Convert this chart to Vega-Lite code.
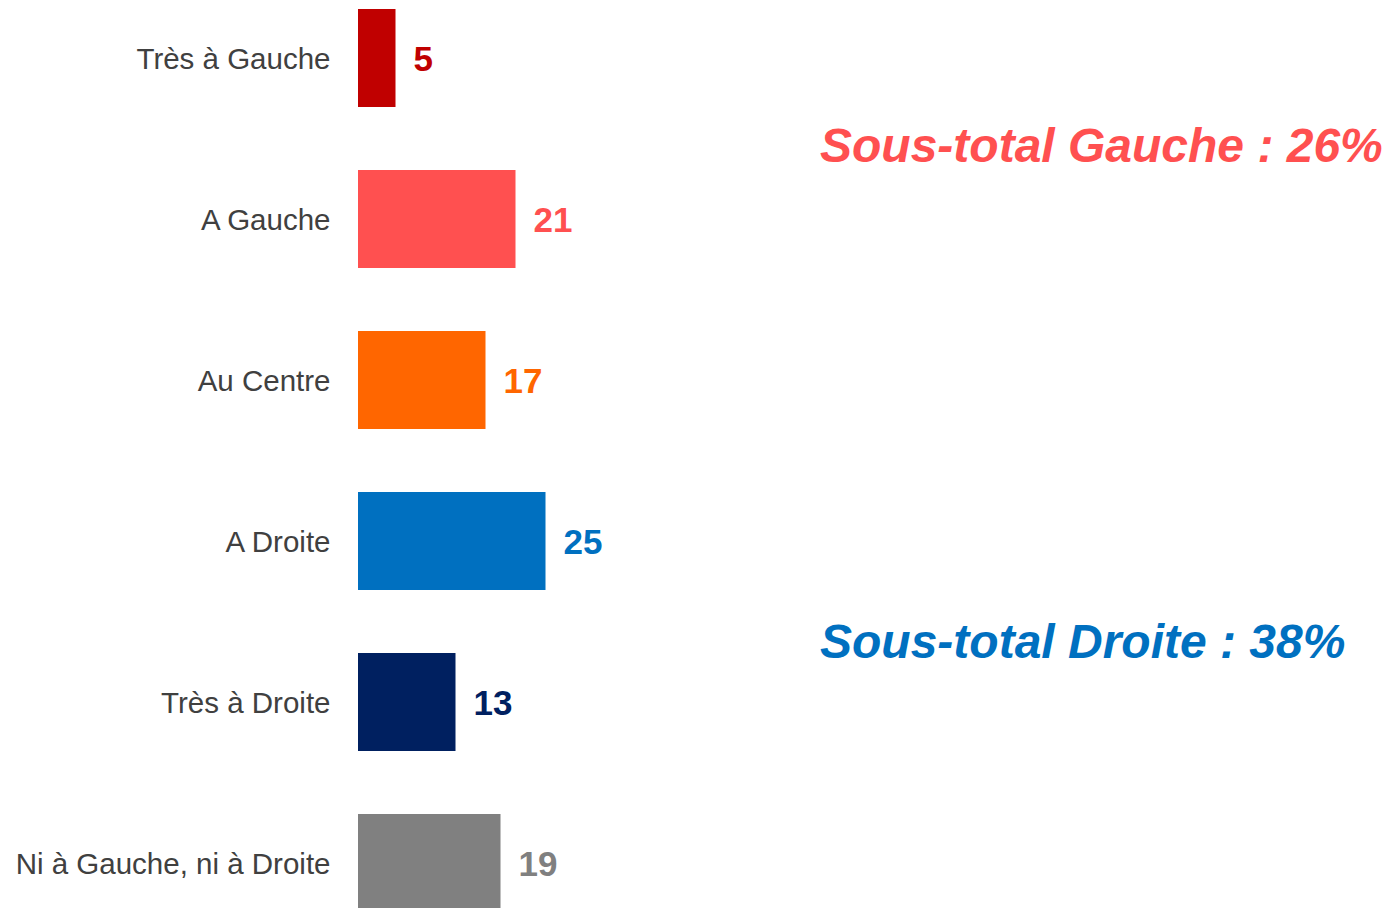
{
  "$schema": "https://vega.github.io/schema/vega-lite/v6.json",
  "width": 1030,
  "height": 921,
  "autosize": {"type": "none"},
  "padding": {"left": 358, "top": 0, "right": 0, "bottom": 0},
  "background": "white",
  "config": {"view": {"stroke": null}, "font": "Liberation Sans"},
  "datasets": {
    "bars": [
      {"cat": "Très à Gauche", "value": 5, "color": "#C00000"},
      {"cat": "A Gauche", "value": 21, "color": "#FF5050"},
      {"cat": "Au Centre", "value": 17, "color": "#FF6600"},
      {"cat": "A Droite", "value": 25, "color": "#0070C0"},
      {"cat": "Très à Droite", "value": 13, "color": "#002060"},
      {"cat": "Ni à Gauche, ni à Droite", "value": 19, "color": "#808080"}
    ]
  },
  "data": {"name": "bars"},
  "encoding": {
    "y": {
      "field": "cat",
      "type": "nominal",
      "sort": null,
      "scale": {"paddingInner": 0.3913, "paddingOuter": 0.0559},
      "axis": {
        "title": null,
        "ticks": false,
        "domain": false,
        "labelPadding": 28,
        "labelOffset": 2,
        "labelFontSize": 29.5,
        "labelColor": "#404040",
        "labelFont": "Liberation Sans",
        "labelLimit": 400
      }
    }
  },
  "layer": [
    {
      "mark": {"type": "bar"},
      "encoding": {
        "x": {"field": "value", "type": "quantitative", "scale": {"domain": [0, 137.33], "nice": false}, "axis": null},
        "color": {"field": "color", "type": "nominal", "scale": null, "legend": null}
      }
    },
    {
      "mark": {"type": "text", "align": "left", "baseline": "middle", "dx": 18, "dy": 2, "fontSize": 35, "fontWeight": "bold", "font": "Liberation Sans"},
      "encoding": {
        "x": {"field": "value", "type": "quantitative"},
        "text": {"field": "value", "type": "quantitative"},
        "color": {"field": "color", "type": "nominal", "scale": null, "legend": null}
      }
    },
    {
      "data": {"values": [{"label": "Sous-total Gauche : 26%", "anchor": "A Gauche", "color": "#FF5050"}]},
      "mark": {"type": "text", "align": "left", "baseline": "alphabetic", "dy": -57, "fontSize": 48, "fontWeight": "bold", "fontStyle": "italic", "font": "Liberation Sans"},
      "encoding": {
        "x": {"datum": 61.6, "type": "quantitative"},
        "y": {"field": "anchor", "type": "nominal", "sort": null},
        "text": {"field": "label"},
        "color": {"field": "color", "type": "nominal", "scale": null, "legend": null}
      }
    },
    {
      "data": {"values": [{"label": "Sous-total Droite : 38%", "anchor": "Très à Droite", "color": "#0070C0"}]},
      "mark": {"type": "text", "align": "left", "baseline": "alphabetic", "dy": -44, "fontSize": 48, "fontWeight": "bold", "fontStyle": "italic", "font": "Liberation Sans"},
      "encoding": {
        "x": {"datum": 61.6, "type": "quantitative"},
        "y": {"field": "anchor", "type": "nominal", "sort": null},
        "text": {"field": "label"},
        "color": {"field": "color", "type": "nominal", "scale": null, "legend": null}
      }
    }
  ]
}
